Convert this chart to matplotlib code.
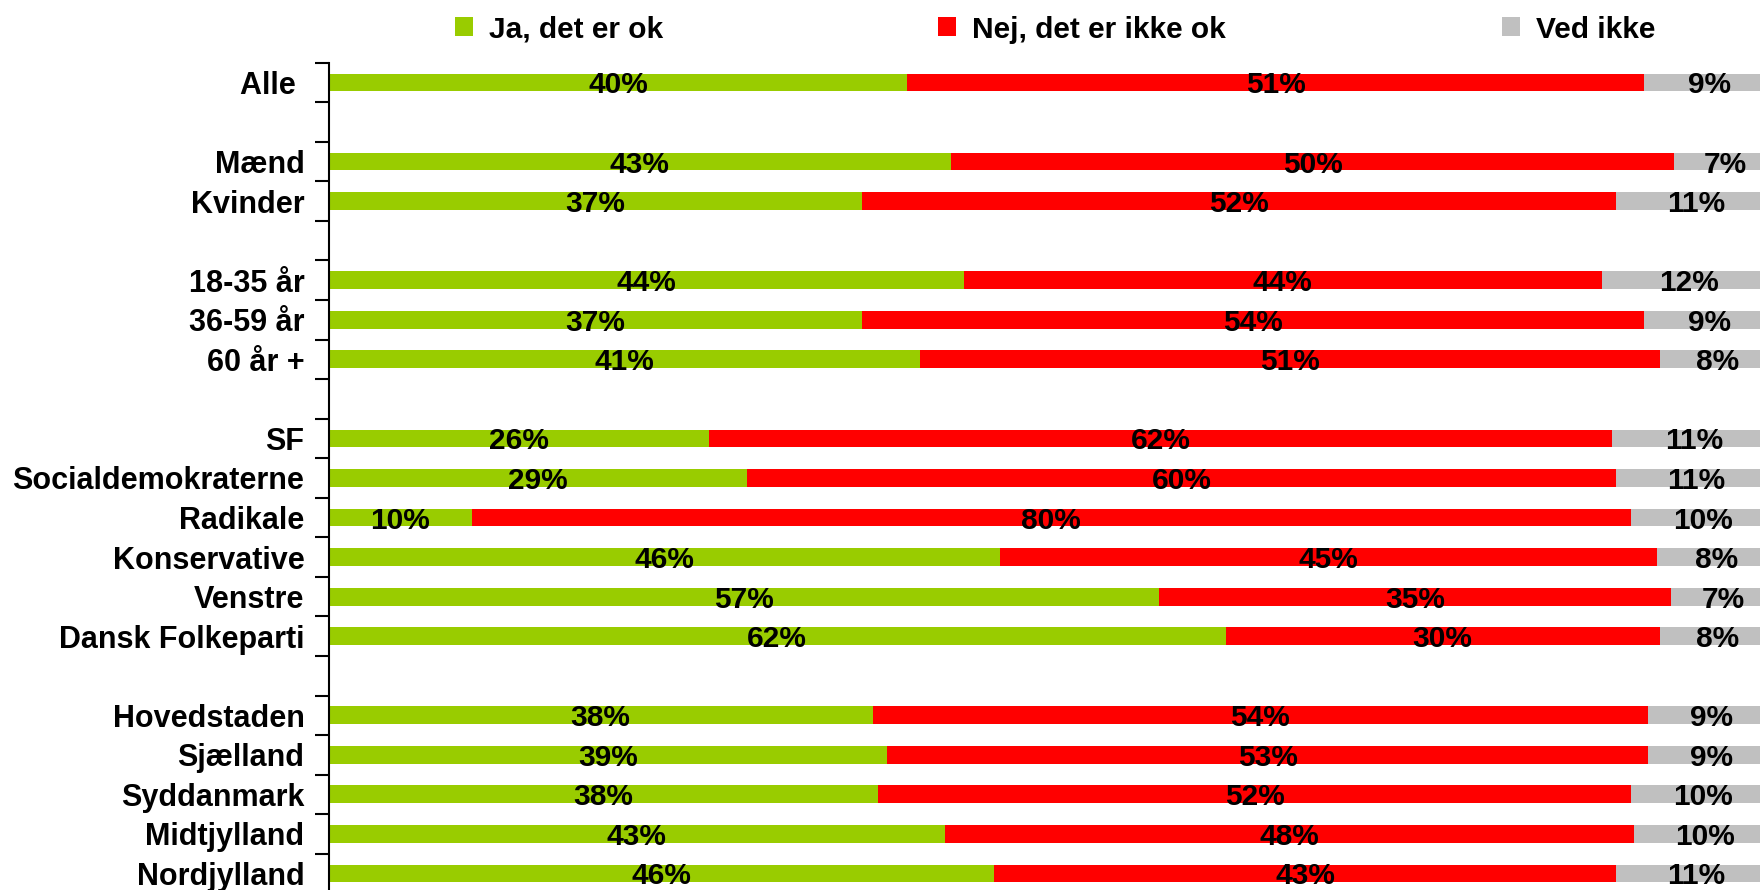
import numpy as np
import matplotlib
matplotlib.use("Agg")
import matplotlib.pyplot as plt
from matplotlib.ticker import FixedLocator

plt.rcParams['font.family'] = ['Liberation Sans', 'DejaVu Sans']
plt.rcParams['font.weight'] = 'bold'

# ---- data ----
categories = ["Alle ", "Mænd", "Kvinder", "18-35 år", "36-59 år", "60 år +",
              "SF", "Socialdemokraterne", "Radikale", "Konservative", "Venstre",
              "Dansk Folkeparti", "Hovedstaden", "Sjælland", "Syddanmark",
              "Midtjylland", "Nordjylland"]
group_sizes = [1, 2, 3, 6, 5]
series_names = ["Ja, det er ok", "Nej, det er ikke ok", "Ved ikke"]
ja = [40.0, 43.0, 36.9, 43.9, 36.9, 40.9, 26.3, 28.9, 9.9, 46.4, 57.4, 62.0,
      37.6, 38.6, 38.0, 42.6, 46.0]
nej = [50.9, 50.0, 52.1, 44.1, 54.0, 51.1, 62.4, 60.1, 80.1, 45.4, 35.4, 30.0,
       53.6, 52.6, 52.0, 47.6, 43.0]
ved = [9.1, 7.0, 11.0, 12.0, 9.1, 8.0, 11.3, 11.0, 10.0, 8.2, 7.2, 8.0,
       8.8, 8.8, 10.0, 9.8, 11.0]
colors = ["#99CC00", "#FF0000", "#C0C0C0"]

# ---- row positions (one blank row between groups) ----
ypos = []
r = 0
for gi, n in enumerate(group_sizes):
    for _ in range(n):
        ypos.append(r)
        r += 1
    r += 1
nrows = ypos[-1] + 1

W, H = 1760, 890
fig = plt.figure(figsize=(W / 100, H / 100), dpi=100)
row_px = 39.55
top_px = 62.7
ax = fig.add_axes([328.5 / W, (H - (top_px + nrows * row_px)) / H,
                   1447 / W, nrows * row_px / H])

fs = 21.5
left = np.zeros(len(categories))
containers = []
for vals, col in zip([ja, nej, ved], colors):
    vals = np.array(vals)
    bc = ax.barh(ypos, vals, left=left, height=0.45, color=col, linewidth=0)
    containers.append(bc)
    for y, l, v in zip(ypos, left, vals):
        ax.text(l + v / 2, y, f"{round(v):.0f}%", ha="center",
                va="center_baseline", fontsize=fs, fontweight="bold",
                color="black")
    left = left + vals

ax.set_xlim(0, 100)
ax.set_ylim(nrows - 0.5, -0.5)

for s in ["top", "right", "bottom"]:
    ax.spines[s].set_visible(False)
ax.spines["left"].set_linewidth(1.5)
ax.set_xticks([])

ax.yaxis.set_major_locator(FixedLocator(np.arange(-0.5, nrows, 1.0)))
ax.yaxis.set_major_formatter(plt.NullFormatter())
ax.set_yticks(ypos, minor=True)
ax.set_yticklabels(categories, minor=True, fontsize=22, fontweight="bold")
ax.tick_params(axis="y", which="major", length=10, width=1.5, direction="out")
ax.tick_params(axis="y", which="minor", length=0, pad=17.3)

# ---- legend (three separately placed entries) ----
leg_x = [455, 938, 1502]
for bc, name, lx in zip(containers, series_names, leg_x):
    fig.legend([bc], [name], loc="center left",
               bbox_to_anchor=(lx / W, 1 - 29.5 / H),
               frameon=False, borderpad=0, borderaxespad=0,
               handlelength=0.6, handleheight=0.6, handletextpad=0.53,
               prop={"size": fs, "weight": "bold"})

fig.savefig("out.png", dpi=100)
